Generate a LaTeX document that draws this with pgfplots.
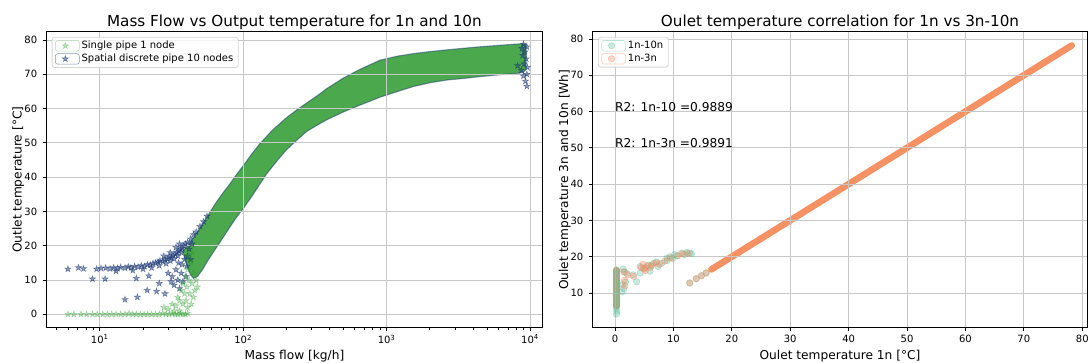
\documentclass[border=0pt]{standalone}
\usepackage{pgfplots}
\pgfplotsset{compat=1.18}
\usepackage{fontspec}
\setmainfont{DejaVu Sans}

\definecolor{bandgreen}{RGB}{76,168,76}
\definecolor{ptgreen}{RGB}{44,160,44}
\definecolor{ptblue}{RGB}{28,58,118}
\definecolor{teal2}{RGB}{102,194,165}
\definecolor{orng}{RGB}{252,141,98}
\definecolor{diag}{RGB}{245,145,98}
\definecolor{gridc}{RGB}{200,200,200}

\pgfdeclareplotmark{fstar}{%
 \pgfpathmoveto{\pgfqpointpolar{90}{\pgfplotmarksize}}%
 \pgfpathlineto{\pgfqpointpolar{126}{0.382\pgfplotmarksize}}%
 \pgfpathlineto{\pgfqpointpolar{162}{\pgfplotmarksize}}%
 \pgfpathlineto{\pgfqpointpolar{198}{0.382\pgfplotmarksize}}%
 \pgfpathlineto{\pgfqpointpolar{234}{\pgfplotmarksize}}%
 \pgfpathlineto{\pgfqpointpolar{270}{0.382\pgfplotmarksize}}%
 \pgfpathlineto{\pgfqpointpolar{306}{\pgfplotmarksize}}%
 \pgfpathlineto{\pgfqpointpolar{342}{0.382\pgfplotmarksize}}%
 \pgfpathlineto{\pgfqpointpolar{18}{\pgfplotmarksize}}%
 \pgfpathlineto{\pgfqpointpolar{54}{0.382\pgfplotmarksize}}%
 \pgfpathclose\pgfusepathqfillstroke}

\pgfplotsset{base/.style={
  scale only axis, height=296pt,
  axis on top,
  axis line style={line width=0.8pt, black},
  tick align=outside, xtick pos=left, ytick pos=left,
  major tick length=3.5pt, minor tick length=2pt,
  every tick/.append style={line width=0.8pt, black},
  every minor tick/.append style={line width=0.6pt, black},
  grid=major, major grid style={line width=0.8pt, gridc},
  tick label style={font=\fontsize{10}{12}\selectfont},
  /pgf/number format/assume math mode=true,
  xticklabel style={anchor=north, inner sep=0pt, yshift=-3.5pt},
  yticklabel style={anchor=east, inner sep=0pt, xshift=-5.5pt},
  legend style={at={(0,1)}, anchor=north west, xshift=5.4pt, yshift=-5.2pt,
    draw=black!20, line width=0.8pt, rounded corners=2.5pt, fill=white,
    fill opacity=0.8, draw opacity=0.8, text opacity=1,
    font=\fontsize{10}{12}\selectfont, inner xsep=3pt, inner ysep=2pt,
    row sep=0pt, nodes={inner sep=2pt}},
  legend cell align=left,
  legend image code/.code={\path (-10pt,-5.3pt) rectangle (14pt,5.3pt); \draw[#1] plot coordinates {(0pt,0pt)};},
}}

\begin{document}
\begin{tikzpicture}
\useasboundingbox (0,0) rectangle (1089pt,363pt);

% ---------------- LEFT ----------------
\begin{axis}[base, name=L, at={(46.3pt,35.3pt)}, anchor=south west, width=496.2pt,
  xmode=log, xmin=4.24, xmax=12220, ymin=-3.9, ymax=82.4,
  xtick={10,100,1000,10000},
  xticklabels={10\textsuperscript{1},10\textsuperscript{2},10\textsuperscript{3},10\textsuperscript{4}},
  minor xtick={5,6,7,8,9,20,30,40,50,60,70,80,90,200,300,400,500,600,700,800,900,2000,3000,4000,5000,6000,7000,8000,9000},
  ytick={0,10,...,80},
  reverse legend]

% dense band (both series overlapping)
\addplot[forget plot, fill=bandgreen, draw=ptblue, draw opacity=0.5, line width=1.1pt] coordinates {
(38,18.5) (42,20.5) (45,22.3) (50,25.2) (57,28.9) (64,32.3) (72,35.3) (81,38.1) (90,40.8) (100,43.3)
(115,46.8) (131,49.8) (161,53.8) (200,57.3) (240,59.8) (277,61.6) (330,63.8) (382,65.8) (500,68.9)
(650,71.4) (900,74.1) (1200,75.3) (1535,76) (2000,76.6) (2624,77.1) (3500,77.6) (4478,78)
(6000,78.4) (7500,78.7) (8800,78.9) (9400,78.6)
(9400,71.5) (9000,70.6) (8400,70.3) (6000,69.8) (4478,69.3) (3500,68.8) (2624,68.3) (2000,67.5)
(1535,66.4) (1200,65.0) (900,63.3) (807,62.5) (618,60.6) (500,59) (382,56.7) (330,55.2) (277,53.3)
(240,51) (201,48) (180,45.7) (161,43.2) (145,40.8) (131,38) (115,34.4) (100,30.8) (90,28.3)
(81,25.5) (72,22.2) (64,19) (57,15.8) (52,13) (48,11) (45,10.5) (43,11.5) (41,13.5) (39,16.5)
} -- cycle;

% Spatial discrete pipe 10 nodes
\addplot[ptblue, only marks, mark=fstar, mark size=3.3pt, fill opacity=0.5, draw opacity=0.55, line width=0.5pt] coordinates {
(6.0,13.2) (7.1,13.6) (7.7,13.3) (8.9,10.3) (10.9,10.3) (9.5,13.2) (10.2,13.4) (11,13.5) (11.8,13.3)
(12.5,13.6) (13.3,13.4) (14,13.7) (15,13.5) (15.8,13.9) (16.5,13.6) (17.5,14) (18.5,13.8) (19.5,14.2)
(20.5,14) (21.5,14.5) (22.5,14.4) (23.5,14.8) (24.5,15) (25.5,15.3) (26.3,15.6) (27.5,15.4)
(28.5,16) (29.5,16.2) (30.5,16.8) (31.5,16.5) (32.5,17.2) (33.5,17.6) (34.5,18) (35.5,18.5)
(36.5,19) (37.5,19.3) (38.5,20) (39.5,20.5)
(13,12.6) (17,12.8) (20,13.2) (23,13.6) (26,14.2) (29,14.8) (31,15.6) (33,16.2) (35,17) (37,18)
(28,17) (31,18) (34,19.5) (36,20.5)
(15,4.3) (18.3,5) (21.4,7) (24.9,6.7) (28.5,6) (26,9) (18,10.5) (22,11.2)
(30,12) (31.5,9.5) (32,11) (33,8.5) (34,13) (35,10) (35.5,15) (36,7.5) (37,12) (37.5,14.5)
(38,9.5) (39,16) (40,11) (40.5,14) (41,17) (42,19) (43,16) (44,20.5)
(41,21) (43,22) (45,23.2) (47,24) (50,25.6) (53,27) (56,28.6)
(8200,72.5) (8700,71.2) (9000,69.5) (9300,68) (9500,66.5) (9100,73) (9400,74.5) (8900,75.5)
(9600,72) (9500,70) (9200,76.5) (8800,77.5) (9500,78) (9000,78.8)
};
\addlegendentry{Spatial discrete pipe 10 nodes}

% Single pipe 1 node
\addplot[ptgreen, only marks, mark=fstar, mark size=3.3pt, fill opacity=0.3, draw opacity=0.35, line width=0.5pt] coordinates {
(6,0) (6.6,0) (7.4,0) (8.1,0) (8.9,0) (9.6,0) (10.5,0) (11.3,0) (12.1,0) (13,0) (14,0) (15,0)
(16,0.2) (17,0) (18,0) (19.2,0) (20.4,0) (21.6,0) (23,0) (24.5,0) (26,0) (27.5,0.3) (29,0)
(30.5,0) (32,0.2) (33.5,0) (35,0) (36.5,0.2) (38,0) (39.5,0) (41,0.3)
(28,2) (30,1.5) (32,3) (33,1) (34,2.5) (35,5) (36,4) (36,1) (37,7) (38,3) (38,9) (39,6)
(39.5,11) (40,4) (40.5,8) (41,13) (41,2) (42,10) (42.5,6) (43,15) (43.5,3) (44,9) (44,18)
(45,12) (46,7) (47,10) (42,17) (45,5) (48,8)
};
\addlegendentry{Single pipe 1 node}
\end{axis}

% ---------------- RIGHT ----------------
\begin{axis}[base, name=R, at={(592.5pt,35.3pt)}, anchor=south west, width=495pt,
  xmin=-3.85, xmax=80.9, ymin=0.44, ymax=82,
  xtick={0,10,...,80}, ytick={10,20,...,80}]

\addplot[teal2, only marks, mark=*, mark size=3.2pt, fill opacity=0.35, draw opacity=0.45, line width=0.6pt] coordinates {
(0.25,4.2) (0.3,5.0) (0.2,5.8) (0.3,6.6) (0.25,7.5) (0.3,8.4) (0.2,9.3) (0.3,10.2) (0.25,11.1)
(0.3,12.0) (0.2,12.9) (0.3,13.8) (0.25,14.7) (0.3,15.6) (0.25,16.4)
(1.4,16.6) (2.0,15.4) (1.6,15.8) (1.3,12.3) (1.5,11.2) (1.2,10.3) (1.8,13.0) (3.1,15.0) (3.7,13.1)
(4.3,17.3) (4.9,16.8) (5.7,17.7) (6.6,18.2) (7.1,18.6) (8.0,18.2) (8.9,19.6) (9.4,20.0) (10.6,20.2)
(11.4,21.0) (12.3,21.2) (13.1,20.8) (4.3,15.5) (6.0,16.0) (7.4,17.3) (8.9,18.9) (5.2,17.0)
(6.2,17.4) (9.9,19.5) (11.9,20.6) (12.8,21.0) (10.2,20.6)
(12.8,12.7) (13.9,13.9) (14.8,14.8) (15.6,15.5)
};
\addlegendentry{1n-10n}

\addplot[orng, only marks, mark=*, mark size=3.2pt, fill opacity=0.35, draw opacity=0.45, line width=0.6pt] coordinates {
(1.5,15.8) (2.2,15.0) (1.6,13.5) (4.5,17.0) (5.0,16.6) (5.5,17.4) (6.3,17.8) (7.0,18.3) (7.6,17.9)
(6.0,17.0) (5.2,16.2) (8.5,18.8) (9.5,19.6) (10.8,20.3) (11.6,20.8) (12.5,20.9) (3.2,14.6)
(1.7,12.0) (4.8,17.9)
(12.8,12.8) (13.9,14.0) (14.8,14.7) (15.6,15.6)
};
\addlegendentry{1n-3n}

\addplot[forget plot, diag, line width=6.6pt, line cap=round] coordinates {(16.5,16.5) (78.2,78.2)};
\addplot[forget plot, diag, line width=6.4pt, line cap=round] coordinates {(0.25,6.3) (0.25,16.3)};

\coordinate (t1) at (axis cs:0,60);
\coordinate (t2) at (axis cs:0,50);
\end{axis}

\node[anchor=base west, inner sep=0pt, font=\fontsize{12.2}{14}\selectfont] at (t1) {R2: 1n-10 =0.9889};
\node[anchor=base west, inner sep=0pt, font=\fontsize{12.2}{14}\selectfont] at (t2) {R2: 1n-3n =0.9891};

% titles and labels
\node[anchor=base, font=\fontsize{15.2}{18}\selectfont] at ([yshift=5.5pt]L.north) {Mass Flow vs Output temperature for 1n and 10n};
\node[anchor=base, font=\fontsize{15.2}{18}\selectfont] at ([yshift=5.5pt]R.north) {Oulet temperature correlation for 1n vs 3n-10n};
\node[anchor=base, font=\fontsize{12.2}{14}\selectfont] at ([yshift=-32pt]L.south) {Mass flow [kg/h]};
\node[anchor=base, font=\fontsize{12.2}{14}\selectfont] at ([yshift=-32pt]R.south) {Oulet temperature 1n [°C]};
\node[anchor=base, rotate=90, font=\fontsize{12.2}{14}\selectfont] at ([xshift=-24.8pt]L.west) {Outlet temperature [°C]};
\node[anchor=base, rotate=90, font=\fontsize{12.2}{14}\selectfont] at ([xshift=-24.3pt]R.west) {Oulet temperature 3n and 10n [Wh]};
\end{tikzpicture}
\end{document}
